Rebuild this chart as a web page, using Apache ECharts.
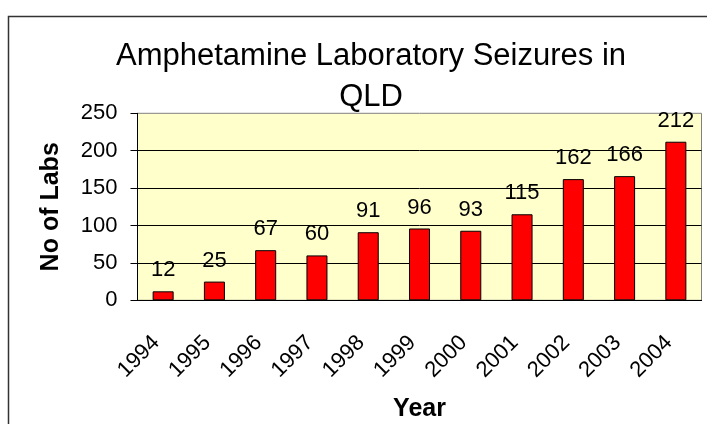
<!DOCTYPE html>
<html lang="en">
<head>
<meta charset="UTF-8">
<title>Amphetamine Laboratory Seizures in QLD</title>
<style>
  html, body {margin:0; padding:0; background:#fff}
  #chart {width:707px; height:424px}
</style>
<script src="https://cdn.jsdelivr.net/npm/echarts@6/dist/echarts.min.js"></script>
</head>
<body>
<div id="chart"></div>
<script>
  // data
  const years = ['1994', '1995', '1996', '1997', '1998', '1999', '2000', '2001', '2002', '2003', '2004']
  const labs = [12, 25, 67, 60, 91, 96, 93, 115, 162, 166, 212]
  const yTicks = [0, 50, 100, 150, 200, 250]

  const font = 'Arial, "Liberation Sans", sans-serif'
  const chart = echarts.init(document.getElementById('chart'))

  chart.setOption({
    animation: false,
    title: {
      text: 'Amphetamine Laboratory Seizures in\nQLD',
      left: 366,
      top: 31,
      textAlign: 'center',
      textStyle: {fontFamily: font, fontSize: 31, fontWeight: 'normal', color: '#000', lineHeight: 41}
    },
    graphic: [{
      type: 'rect',
      shape: {x: 8.5, y: 16.5, width: 800, height: 500},
      style: {fill: 'none', stroke: '#333', lineWidth: 1.5},
      silent: true
    }],
    grid: {
      left: 137.5, right: 5.5, top: 113.3, bottom: 123.7,
      show: true, backgroundColor: '#FFFFCC', borderColor: '#808080', borderWidth: 1
    },
    xAxis: {
      type: 'category',
      data: years,
      name: 'Year',
      nameLocation: 'middle',
      nameGap: 96,
      nameTextStyle: {fontFamily: font, fontSize: 25, fontWeight: 'bold', color: '#000'},
      axisLine: {lineStyle: {color: '#000', width: 1}},
      axisTick: {length: 7, lineStyle: {color: '#000'}},
      axisLabel: {rotate: 45, interval: 0, margin: 32, padding: [0, 10, 0, 0], fontFamily: font, fontSize: 22, color: '#000'}
    },
    yAxis: {
      type: 'value',
      min: yTicks[0],
      max: yTicks[yTicks.length - 1],
      interval: 50,
      name: 'No of Labs',
      nameLocation: 'middle',
      nameGap: 74,
      nameTextStyle: {fontFamily: font, fontSize: 25, fontWeight: 'bold', color: '#000'},
      axisLine: {show: true, lineStyle: {color: '#000', width: 1}},
      axisTick: {show: true, length: 7, lineStyle: {color: '#000'}},
      axisLabel: {margin: 20, fontFamily: font, fontSize: 22, color: '#000'},
      splitLine: {show: true, showMaxLine: false, lineStyle: {color: '#000', width: 1}}
    },
    series: [{
      name: 'No of Labs',
      type: 'bar',
      data: labs,
      barWidth: '41%',
      itemStyle: {color: '#FF0000', borderColor: '#000', borderWidth: 1},
      label: {show: true, position: 'top', distance: 10, fontFamily: font, fontSize: 22, color: '#000'}
    }]
  })
</script>
</body>
</html>
